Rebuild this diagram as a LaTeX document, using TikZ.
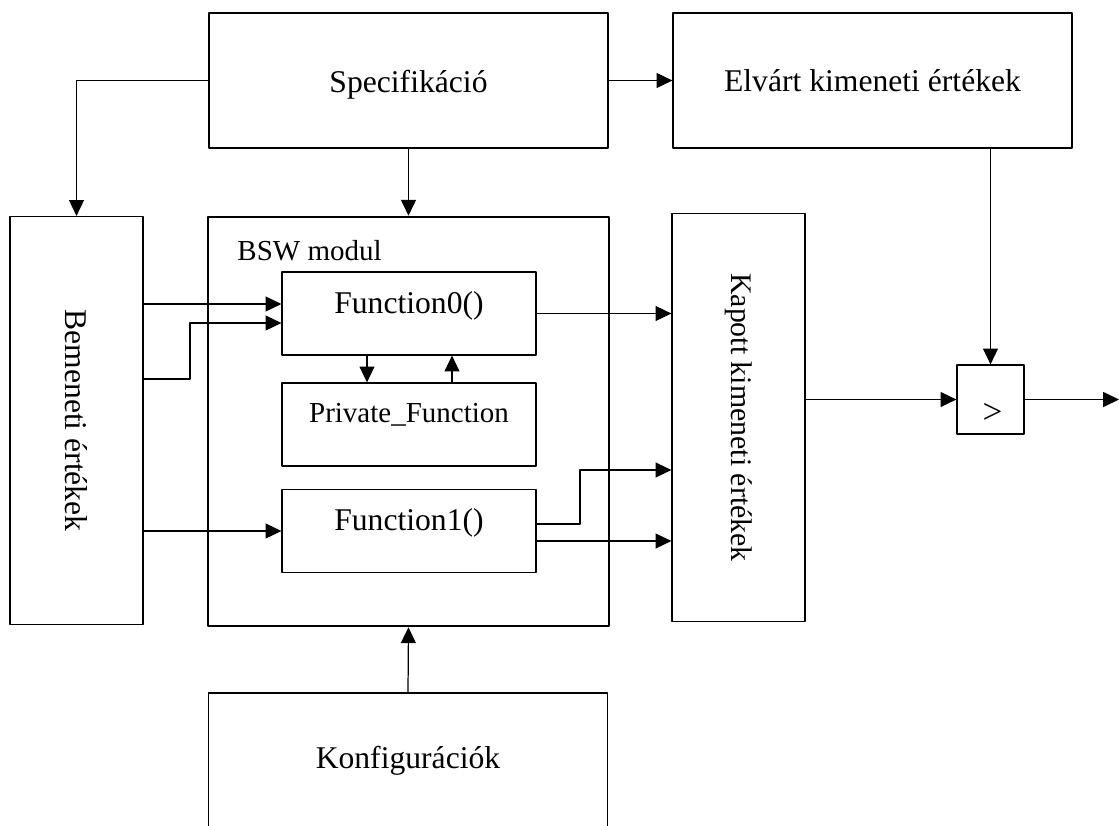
\documentclass[tikz,border=0pt]{standalone}
\usepackage{fontspec}
\setmainfont{Liberation Serif}
\usetikzlibrary{arrows.meta,calc}
\tikzset{
	blok/.style={draw, line width=0.7pt, inner sep=0pt},
	nagyblok/.style={blok, minimum width=7.98cm, minimum height=2.7cm},
	allblok/.style={blok, minimum width=2.66cm, minimum height=8.16cm},
	fuggveny/.style={blok, minimum width=5.08cm, minimum height=1.66cm, text depth=0.45cm},
	kisbetu/.style={font=\fontsize{16.5}{19}\selectfont}
}
\begin{document}
\begin{tikzpicture}[x=0.02cm, y=-0.02cm, line join=round, >={Triangle[length=9pt,width=8.5pt]}, line width=0.7pt, font=\fontsize{18}{21}\selectfont]
	\clip (0,0) rectangle (1119,825);
	% felso sor
	\node[nagyblok, text height=0.6cm] (spec) at (408.5,80.5) {Specifikáció};
	\node[nagyblok] (elvart) at (872.5,80.5) {Elvárt kimeneti értékek};
	% bemenet es kimenet
	\node[allblok] (bem) at (76.5,420.5) {};
	\node[rotate=-90] (bemtxt) at (bem) {Bemeneti értékek};
	\node[allblok] (kap) at (738.5,417.5) {};
	\node[rotate=-90, font=\fontsize{17}{20}\selectfont] (kaptxt) at (kap) {Kapott kimeneti értékek};
	% modul
	\node[blok, line width=1.5pt, minimum width=8.02cm, minimum height=8.18cm] (bsw) at (408.5,421.5) {};
	\node[kisbetu, anchor=west] (bswtxt) at (231,251) {BSW modul};
	\node[fuggveny] (f0) at (409,313.5) {Function0()};
	\node[fuggveny, kisbetu] (priv) at (409,424.5) {Private\_Function};
	\node[fuggveny] (f1) at (409,531) {Function1()};
	% osszehasonlitas
	\node[blok, minimum width=1.34cm, minimum height=1.38cm] (cmp) at (990.5,399.5) {};
	\node[font=\fontsize{20}{24}\selectfont] (gt) at (992.5,413) {>};
	\node[nagyblok] (konf) at (408,760.5) {Konfigurációk};
	\coordinate (ki) at (1119,399.5);
	\coordinate (be0a) at ($(f0.west)+(0,-9.5)$);
	\coordinate (be0b) at ($(f0.west)+(0,9.5)$);
	\coordinate (kanyar) at (190,379);
	\coordinate (ki1a) at ($(f1.east)+(0,-7)$);
	\coordinate (ki1b) at ($(f1.east)+(0,10)$);
	\coordinate (kanyar2) at (580,470);
	% nyilak
	\draw[->] (spec.west) -| (bem.north);
	\draw[->] (spec.south) -- (bsw.north);
	\draw[->] (spec.east) -- (elvart.west);
	\draw[->] (elvart.south -| cmp.north) -- (cmp.north);
	\draw[->] (bem.east |- be0a) -- (be0a);
	\draw[->] (bem.east |- kanyar) -- (kanyar) |- (be0b);
	\draw[->] (bem.east |- f1.west) -- (f1.west);
	\draw[->] ($(f0.south)+(-42,0)$) -- ($(priv.north)+(-42,0)$);
	\draw[->] ($(priv.north)+(43,0)$) -- ($(f0.south)+(43,0)$);
	\draw[->] (f0.east) -- (f0.east -| kap.west);
	\draw[->] (ki1a) -| (kanyar2) -- (kanyar2 -| kap.west);
	\draw[->] (ki1b) -- (ki1b -| kap.west);
	\draw[->] (cmp.west -| kap.east) -- (cmp.west);
	\draw[->] (cmp.east) -- (ki);
	\draw[->] (konf.north) -- (bsw.south);
\end{tikzpicture}
\end{document}
